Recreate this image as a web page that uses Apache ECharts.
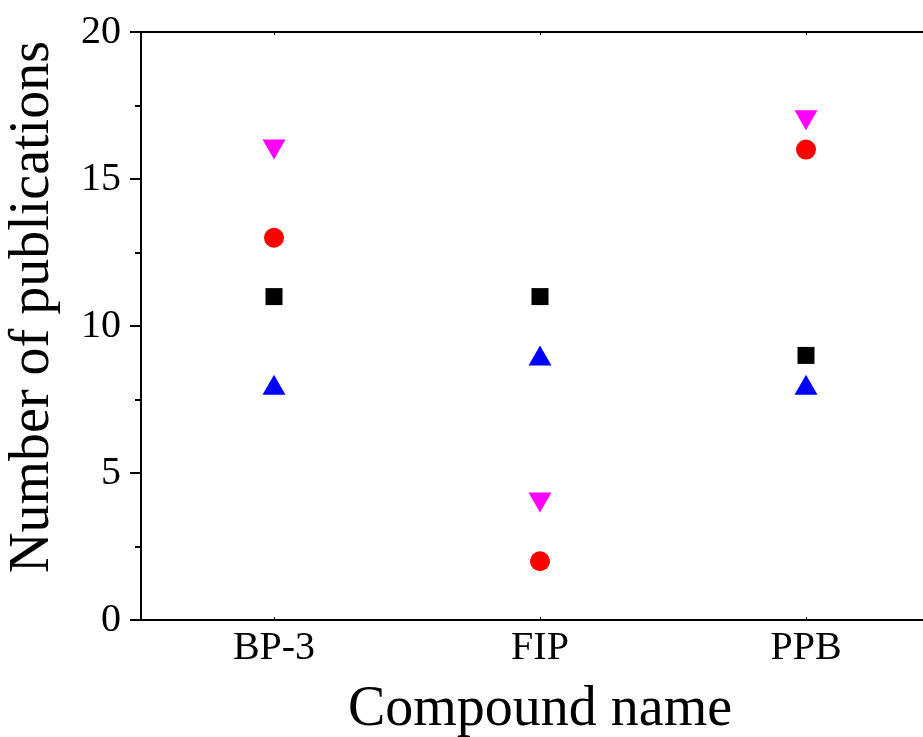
<!DOCTYPE html>
<html>
<head>
<meta charset="utf-8">
<script src="https://cdn.jsdelivr.net/npm/echarts@6/dist/echarts.min.js"></script>
<style>
  html, body { margin: 0; padding: 0; background: #fff; }
  #chart { width: 923px; height: 737px; }
</style>
</head>
<body>
<div id="chart"></div>
<script>
// Compounds on the x axis
var compounds = ['BP-3', 'FIP', 'PPB'];

// Publication counts per compound, one array per marker group
var squareCounts = [11, 11, 9];
var circleCounts = [13, 2, 16];
var upTriangleCounts = [8, 9, 8];
var downTriangleCounts = [16, 4, 17];

// Y axis range
var yMin = 0, yMax = 20, yStep = 5;

var FONT = '"Liberation Serif", "Times New Roman", serif';

var chart = echarts.init(document.getElementById('chart'), null, { renderer: 'canvas' });

function scatter(name, values, symbol, size, color, rotate) {
  return {
    name: name,
    type: 'scatter',
    xAxisIndex: 0,
    yAxisIndex: 0,
    data: values,
    symbol: symbol,
    symbolSize: size,
    symbolRotate: rotate || 0,
    itemStyle: { color: color, opacity: 1 },
    emphasis: { disabled: true },
    z: 5
  };
}

chart.setOption({
  animation: false,
  backgroundColor: '#ffffff',
  grid: { left: 141, top: 32, width: 798, bottom: 117, containLabel: false, outerBoundsMode: 'none' },
  xAxis: [
    {
      type: 'category',
      data: compounds,
      position: 'bottom',
      boundaryGap: true,
      name: 'Compound name',
      nameLocation: 'middle',
      nameGap: 62,
      nameTextStyle: { fontFamily: FONT, fontSize: 56, color: '#000' },
      axisLine: { show: true, lineStyle: { color: '#000', width: 2 } },
      axisTick: { show: true, inside: true, alignWithLabel: true, length: 3, lineStyle: { color: '#000', width: 1 } },
      axisLabel: { fontFamily: FONT, fontSize: 40, color: '#000', margin: 8 },
      splitLine: { show: false }
    },
    {
      type: 'category',
      data: compounds,
      position: 'top',
      boundaryGap: true,
      axisLine: { show: true, onZero: false, lineStyle: { color: '#000', width: 2 } },
      axisTick: { show: true, inside: true, alignWithLabel: true, length: 3, lineStyle: { color: '#000', width: 1 } },
      axisLabel: { show: false },
      splitLine: { show: false }
    }
  ],
  yAxis: [
    {
      type: 'value',
      min: yMin,
      max: yMax,
      interval: yStep,
      name: 'Number of publications',
      nameLocation: 'middle',
      nameGap: 80,
      nameTextStyle: { fontFamily: FONT, fontSize: 56, color: '#000', padding: [0, 0, 0, 38] },
      axisLine: { show: true, onZero: false, lineStyle: { color: '#000', width: 2 } },
      axisTick: { show: true, inside: false, length: 11, lineStyle: { color: '#000', width: 2 } },
      minorTick: { show: true, splitNumber: 2, length: 6, lineStyle: { color: '#000', width: 2 } },
      axisLabel: { fontFamily: FONT, fontSize: 40, color: '#000', margin: 20 },
      splitLine: { show: false },
      minorSplitLine: { show: false }
    }
  ],
  series: [
    scatter('Squares', squareCounts, 'rect', 17, '#000000'),
    scatter('Circles', circleCounts, 'circle', 20, '#ff0000'),
    scatter('Up triangles', upTriangleCounts, 'triangle', [23, 20], '#0000ff'),
    scatter('Down triangles', downTriangleCounts, 'triangle', [23, 20], '#ff00ff', 180)
  ]
});
</script>
</body>
</html>
